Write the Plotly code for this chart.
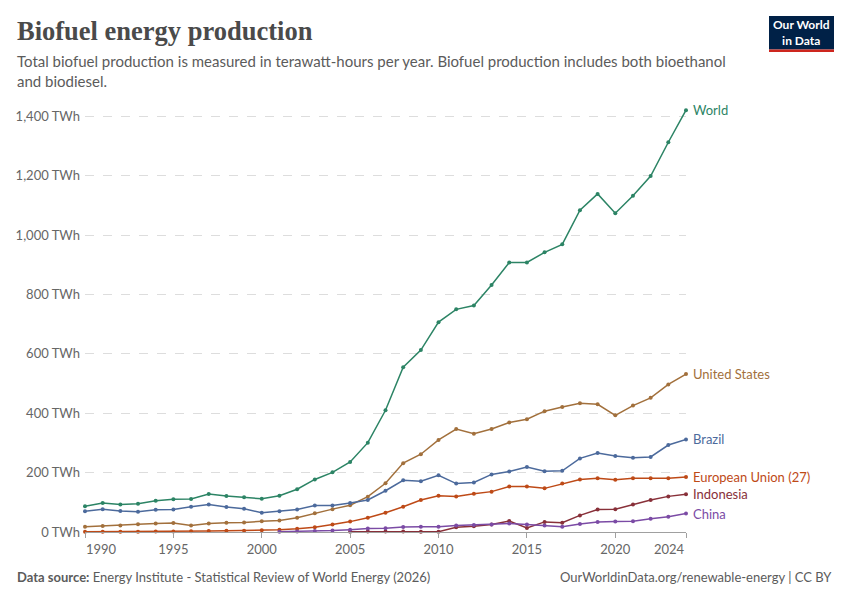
import plotly.graph_objects as go

years = list(range(1990, 2025))

world = [87, 98, 93, 95, 105, 110, 111, 128, 121, 117, 112, 122, 144, 177, 201, 236, 301,
         410, 555, 613, 707, 750, 763, 832, 908, 908, 942, 969, 1084, 1139, 1074, 1133, 1199, 1313, 1421]
united_states = [18, 20, 22, 26, 29, 30, 22, 29, 31, 32, 36, 39, 48, 63, 77, 90, 119,
                 164, 232, 262, 310, 347, 331, 347, 369, 380, 407, 421, 434, 430, 393, 426, 452, 497, 532]
brazil = [70, 77, 71, 68, 75, 76, 85, 93, 84, 78, 65, 70, 76, 89, 89, 98, 108,
          139, 174, 171, 191, 163, 167, 194, 204, 219, 205, 206, 248, 266, 256, 250, 253, 293, 312]
eu = [0.5, 0.6, 0.8, 1, 1.5, 2, 2.5, 3.5, 4, 4.5, 6, 8, 11, 16, 25, 35, 48,
      65, 85, 108, 122, 120, 129, 136, 153, 153, 147, 163, 177, 181, 176, 181, 181, 181, 185]
indonesia_years = list(range(2005, 2025))
indonesia = [1, 1.5, 2, 2, 1, 1, 16, 19, 25, 37, 13.5, 34, 31, 56, 76, 77, 93, 108, 120, 127]
china_years = list(range(2001, 2025))
china = [1, 2, 3, 5, 8, 12, 12.5, 17, 18, 18, 22, 23.5, 25, 29, 25, 22, 18, 27, 34, 35, 36, 45, 51, 62]

series = [
    ("World", years, world, "#2C8465"),
    ("United States", years, united_states, "#A2703C"),
    ("Brazil", years, brazil, "#4C6A9C"),
    ("European Union (27)", years, eu, "#BE4A17"),
    ("Indonesia", indonesia_years, indonesia, "#883039"),
    ("China", china_years, china, "#7B4BA5"),
]

y_ticks = [0, 200, 400, 600, 800, 1000, 1200, 1400]
y_tick_text = ["0 TWh", "200 TWh", "400 TWh", "600 TWh", "800 TWh", "1,000 TWh", "1,200 TWh", "1,400 TWh"]
x_ticks = [1990, 1995, 2000, 2005, 2010, 2015, 2020, 2024]
x_tick_text = ["", "1995", "2000", "2005", "2010", "2015", "2020", ""]

W, H = 850, 600
L, R, T, B = 85, 686, 109, 531.8


def px(x):
    return (x - L) / (R - L)


def py(y):
    return (B - y) / (B - T)


fig = go.Figure()
for name, xs, ys, col in series:
    fig.add_trace(go.Scatter(
        x=xs, y=ys, mode="lines+markers", name=name,
        line=dict(color=col, width=1.5),
        marker=dict(color=col, size=4),
        cliponaxis=False, showlegend=False,
    ))
    fig.add_annotation(x=xs[-1], y=ys[-1], xref="x", yref="y", text=name,
                       showarrow=False, xanchor="left", yanchor="middle", xshift=5,
                       font=dict(family="Lato", size=13, color=col))

font_gray = "#666666"

# edge x labels
fig.add_annotation(x=1990, y=0, xref="x", yref="y", text="1990", showarrow=False,
                   xanchor="left", yanchor="top", yshift=-7, xshift=-1,
                   font=dict(family="Lato", size=13, color=font_gray))
fig.add_annotation(x=2024, y=0, xref="x", yref="y", text="2024", showarrow=False,
                   xanchor="right", yanchor="top", yshift=-7, xshift=1,
                   font=dict(family="Lato", size=13, color=font_gray))

# title & subtitle
fig.add_annotation(x=px(15), y=py(14), xref="paper", yref="paper", showarrow=False,
                   xanchor="left", yanchor="top", align="left",
                   text="<b>Biofuel energy production</b>",
                   font=dict(family="Liberation Serif", size=26.5, color="#4a4a4a"))
fig.add_annotation(x=px(15), y=py(50), xref="paper", yref="paper", showarrow=False,
                   xanchor="left", yanchor="top", align="left",
                   text="Total biofuel production is measured in terawatt-hours per year. Biofuel production includes both bioethanol<br>and biodiesel.",
                   font=dict(family="Lato", size=15, color="#5b5b5b"))
# footer
fig.add_annotation(x=px(15), y=py(577), xref="paper", yref="paper", showarrow=False,
                   xanchor="left", yanchor="middle", align="left",
                   text="<b>Data source:</b> Energy Institute - Statistical Review of World Energy (2026)",
                   font=dict(family="Lato", size=13, color="#5b5b5b"))
fig.add_annotation(x=px(834), y=py(577), xref="paper", yref="paper", showarrow=False,
                   xanchor="right", yanchor="middle", align="right",
                   text="OurWorldinData.org/renewable-energy | CC BY",
                   font=dict(family="Lato", size=13, color="#5b5b5b"))

# logo
fig.add_shape(type="rect", xref="paper", yref="paper", x0=px(769), x1=px(834), y0=py(49.5), y1=py(16),
              fillcolor="#002147", line=dict(width=0), layer="above")
fig.add_shape(type="rect", xref="paper", yref="paper", x0=px(769), x1=px(834), y0=py(52), y1=py(49.5),
              fillcolor="#CE261E", line=dict(width=0), layer="above")
fig.add_annotation(x=px(801.5), y=py(33), xref="paper", yref="paper", showarrow=False,
                   xanchor="center", yanchor="middle", align="center",
                   text="<b>Our World<br>in Data</b>",
                   font=dict(family="Lato", size=12, color="#ffffff"))

fig.update_layout(
    width=W, height=H,
    margin=dict(l=L, r=W - R, t=T, b=H - B),
    paper_bgcolor="white", plot_bgcolor="white",
    font=dict(family="Lato", size=13, color=font_gray),
    xaxis=dict(range=[1990, 2024], tickvals=x_ticks, ticktext=x_tick_text,
               showgrid=False, zeroline=False, showline=True, linecolor="#a0a0a0", linewidth=1,
               ticks="outside", ticklen=5, tickcolor="#a0a0a0",
               tickfont=dict(family="Lato", size=13, color=font_gray)),
    yaxis=dict(range=[0, 1425], tickvals=y_ticks, ticktext=y_tick_text,
               showgrid=True, gridcolor="#dddddd", griddash="dash", gridwidth=1,
               zeroline=False, showline=False, ticks="", ticklabelstandoff=4,
               tickfont=dict(family="Lato", size=13, color=font_gray)),
)

fig.write_html("out.html", config={"displayModeBar": False},
               post_script="document.body.style.margin='0';document.body.style.overflow='hidden';")
